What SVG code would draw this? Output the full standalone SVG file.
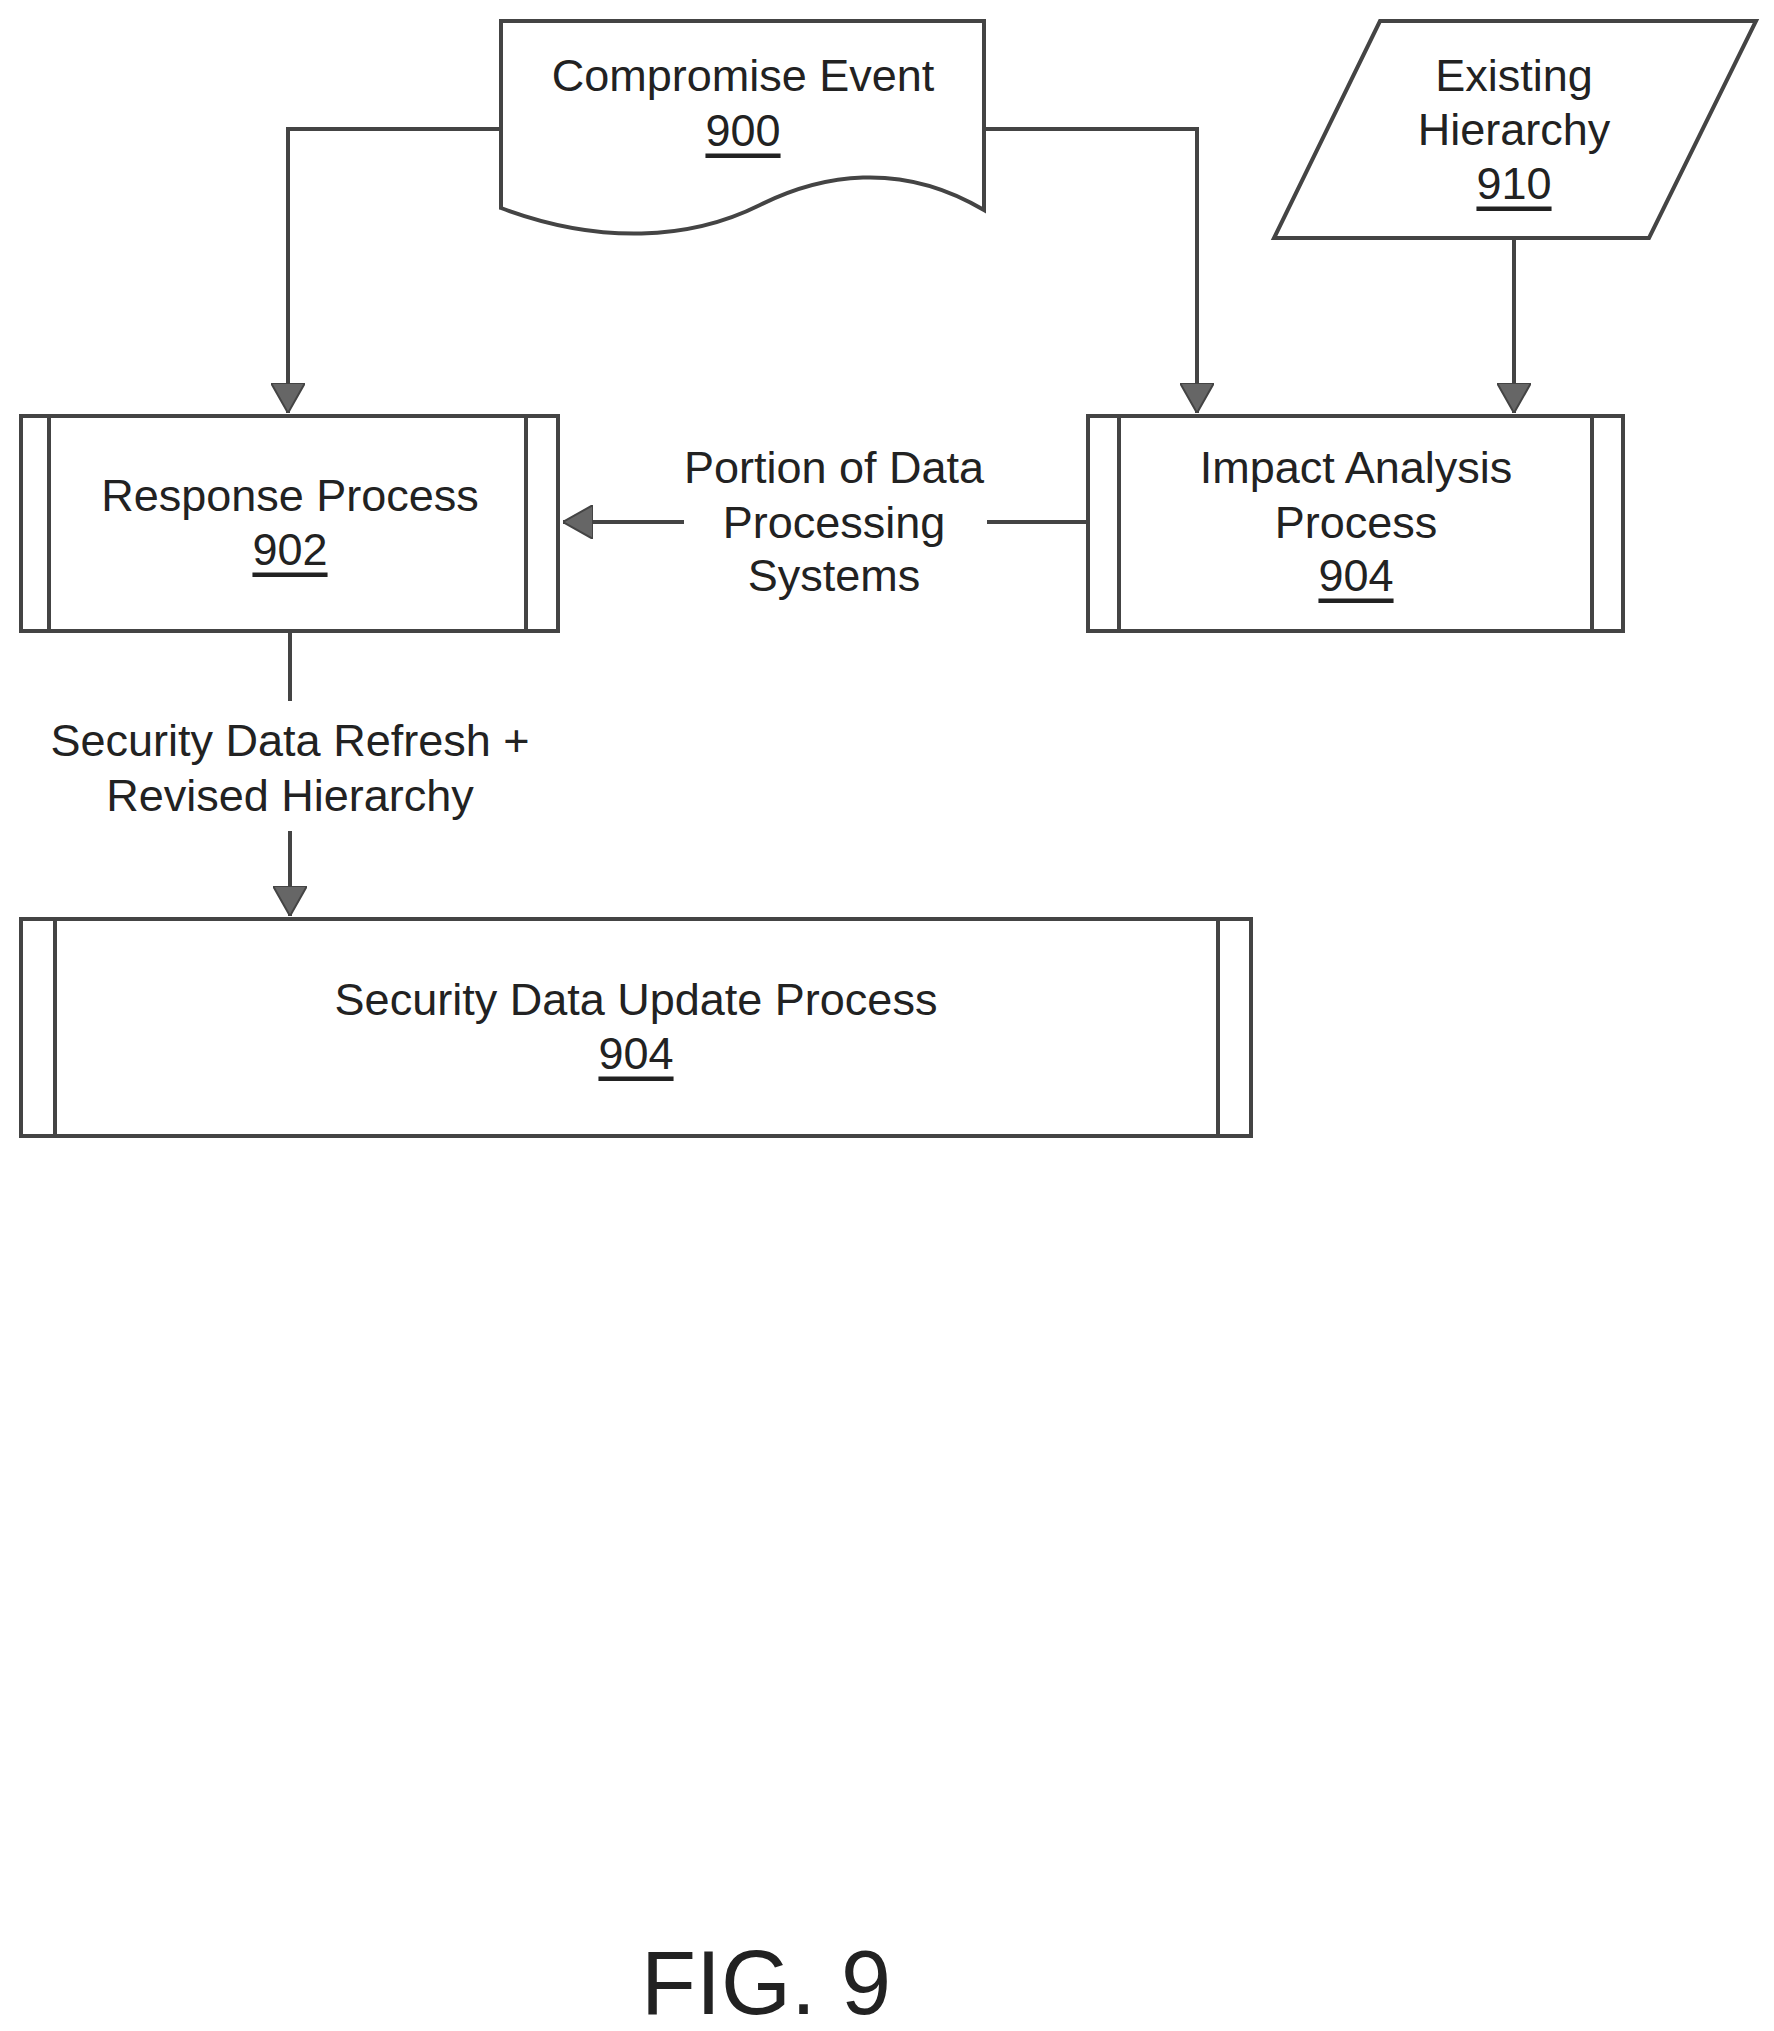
<svg xmlns="http://www.w3.org/2000/svg" width="1774" height="2031" viewBox="0 0 1774 2031">
<style>
.s{fill:#fff;stroke:#444;stroke-width:4}
.t{font-family:"Liberation Sans",Arial,sans-serif;font-size:45px;fill:#222;text-anchor:middle;dominant-baseline:central}
.c{fill:none;stroke:#444;stroke-width:4}
</style>
<defs>
<marker id="ah" markerWidth="30" markerHeight="34" refX="30" refY="17" orient="auto" markerUnits="userSpaceOnUse"><path d="M0,0L30,17L0,34z" fill="#666" stroke="#444" stroke-width="2"/></marker></defs>
<rect width="1774" height="2031" fill="#fff"/>
<g id="connectors">
<path class="c" d="M501,129H288V413" marker-end="url(#ah)"/>
<path class="c" d="M984,129H1197V413" marker-end="url(#ah)"/>
<path class="c" d="M1514,238V413" marker-end="url(#ah)"/>
<path class="c" d="M1088,522H987"/>
<path class="c" d="M684,522H563" marker-end="url(#ah)"/>
<path class="c" d="M290,631V701"/>
<path class="c" d="M290,831V916" marker-end="url(#ah)"/>
<text class="t" x="834" y="467">Portion of Data</text>
<text class="t" x="834" y="522">Processing</text>
<text class="t" x="834" y="575">Systems</text>
<text class="t" x="290" y="740">Security Data Refresh +</text>
<text class="t" x="290" y="795">Revised Hierarchy</text>
</g>
<g id="n900">
<path class="s" d="M501,21H984V210C900,160,820,175,760,205C690,240,600,245,501,208Z"/>
<text class="t" x="743" y="75">Compromise Event</text>
<text class="t" x="743" y="130" text-decoration="underline">900</text>
</g>
<g id="n910">
<path class="s" d="M1380,21H1756L1649,238H1274Z"/>
<text class="t" x="1514" y="75">Existing</text>
<text class="t" x="1514" y="129">Hierarchy</text>
<text class="t" x="1514" y="183" text-decoration="underline">910</text>
</g>
<g id="n902">
<rect class="s" x="21" y="416" width="537" height="215"/>
<path class="c" d="M49,416V631M526,416V631"/>
<text class="t" x="290" y="495">Response Process</text>
<text class="t" x="290" y="549" text-decoration="underline">902</text>
</g>
<g id="n904a">
<rect class="s" x="1088" y="416" width="535" height="215"/>
<path class="c" d="M1119,416V631M1592,416V631"/>
<text class="t" x="1356" y="467">Impact Analysis</text>
<text class="t" x="1356" y="522">Process</text>
<text class="t" x="1356" y="575" text-decoration="underline">904</text>
</g>
<g id="n904b">
<rect class="s" x="21" y="919" width="1230" height="217"/>
<path class="c" d="M55,919V1136M1218,919V1136"/>
<text class="t" x="636" y="999">Security Data Update Process</text>
<text class="t" x="636" y="1053" text-decoration="underline">904</text>
</g>
<text class="t" x="766" y="1983" style="font-size:90px">FIG. 9</text>
</svg>
